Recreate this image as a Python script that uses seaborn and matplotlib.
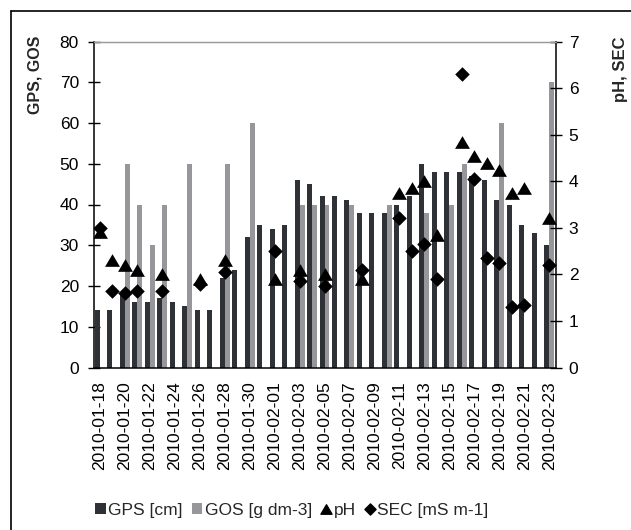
import numpy as np
import pandas as pd
import matplotlib
matplotlib.use("Agg")
import matplotlib.pyplot as plt
from matplotlib.patches import Patch
from matplotlib.lines import Line2D
from matplotlib.path import Path
import seaborn as sns

nan = np.nan
dates = list(pd.date_range("2010-01-18", "2010-02-23", freq="D").strftime("%Y-%m-%d"))

gps = [14, 14, 18, 16, 16, 17, 16, 15, 14, 14, 22, 24, 32, 35, 34, 35, 46, 45, 42, 42,
       41, 38, 38, 38, 40, 42, 50, 48, 48, 48, 47, 46, 41, 40, 35, 33, 30]
gos = [nan, nan, 50, 40, 30, 40, nan, 50, nan, nan, 50, nan, 60, nan, nan, nan, 40, 40, 40, nan,
       40, nan, nan, 40, nan, nan, 38, nan, 40, 50, nan, nan, 60, nan, nan, nan, 70]
ph = [2.9, 2.3, 2.2, 2.1, nan, 2.0, nan, nan, 1.9, nan, 2.3, nan, nan, nan, 1.9, nan, 2.1, nan, 2.0, nan,
      nan, 1.9, nan, nan, 3.75, 3.85, 4.0, 2.85, nan, 4.85, 4.55, 4.4, 4.25, 3.75, 3.85, nan, 3.2]
sec = [3.0, 1.65, 1.6, 1.65, nan, 1.65, nan, nan, 1.8, nan, 2.05, nan, nan, nan, 2.5, nan, 1.85, nan, 1.75, nan,
       nan, 2.1, nan, nan, 3.2, 2.5, 2.65, 1.9, nan, 6.3, 4.05, 2.35, 2.25, 1.3, 1.35, nan, 2.2]

series_names = ["GPS [cm]", "GOS [g dm-3]"]
point_names = ["pH", "SEC [mS m-1]"]
left_ticks = [0, 10, 20, 30, 40, 50, 60, 70, 80]
right_ticks = [0, 1, 2, 3, 4, 5, 6, 7]

gps_c = "#2e3135"
gos_c = "#96969b"

sns.set_style("white")
plt.rcParams["font.family"] = ["Liberation Sans", "DejaVu Sans"]
FS = 12.5

df = pd.DataFrame({
    "date": dates * 2,
    "series": [series_names[0]] * len(dates) + [series_names[1]] * len(dates),
    "value": gps + gos,
}).dropna()

fig = plt.figure(figsize=(6.31, 5.30), dpi=100)
L, R, B, T = 93.5 / 631, 555.5 / 631, 1 - 367.5 / 530, 1 - 41.5 / 530
ax = fig.add_axes([L, B, R - L, T - B])

sns.barplot(data=df, x="date", y="value", hue="series", order=dates, hue_order=series_names,
            palette=[gps_c, gos_c], saturation=1, width=0.8, linewidth=0, errorbar=None,
            legend=False, ax=ax)

ax.set_xlim(-0.5, len(dates) - 0.5)
ax.set_ylim(0, 80)
ax.set_yticks(left_ticks)
ax.set_yticklabels([str(t) for t in left_ticks], fontsize=FS)
ax.set_xticks(range(0, len(dates), 2))
ax.set_xticklabels(dates[::2], rotation=90, fontsize=FS)
ax.set_xticks(np.arange(-0.5, len(dates), 1), minor=True)
ax.tick_params(axis="x", which="major", length=0, pad=10)
ax.tick_params(axis="x", which="minor", length=9, width=1, direction="inout", color="black")
ax.tick_params(axis="y", length=9, width=1, direction="inout", color="black", pad=6, left=True)
ax.tick_params(labelcolor="black")
ax.set_xlabel("")
ax.set_ylabel("")
for s in ["left", "bottom"]:
    ax.spines[s].set_color("black")
    ax.spines[s].set_linewidth(1.1)
ax.spines["top"].set_color("#9a9a9a")
ax.spines["top"].set_linewidth(1)
ax.spines["right"].set_visible(False)

ax2 = ax.twinx()
xpos = np.arange(len(dates))
tri = Path([(-1, -0.85), (1, -0.85), (0, 0.85), (-1, -0.85)], [1, 2, 2, 79])
dia = Path([(0, 1), (1, 0), (0, -1), (-1, 0), (0, 1)], [1, 2, 2, 2, 79])
sns.scatterplot(x=xpos, y=ph, marker=tri, s=115, color="black", edgecolor="black", linewidth=0, ax=ax2)
sns.scatterplot(x=xpos, y=sec, marker=dia, s=110, color="black", edgecolor="black", linewidth=0, ax=ax2)
ax2.set_ylim(0, 7)
ax2.set_xlim(-0.5, len(dates) - 0.5)
ax2.set_yticks(right_ticks)
ax2.set_yticklabels([str(t) for t in right_ticks], fontsize=FS)
ax2.tick_params(axis="y", length=9, width=1, direction="inout", color="black", pad=5, right=True,
                labelcolor="black")
ax2.spines["right"].set_visible(True)
ax2.spines["right"].set_color("black")
ax2.spines["right"].set_linewidth(1.1)
ax2.spines["left"].set_visible(False)
ax2.spines["bottom"].set_visible(False)
ax2.spines["top"].set_color("#9a9a9a")
ax2.set_ylabel("")

fig.text(35 / 631, 1 - 36 / 530, "GPS, GOS", rotation=90, ha="center", va="top",
         fontsize=11.5, fontweight="bold")
fig.text(621 / 631, 1 - 36 / 530, "pH, SEC", rotation=90, ha="center", va="top",
         fontsize=12, fontweight="bold")

handles = [Patch(facecolor=gps_c, edgecolor="none"),
           Patch(facecolor=gos_c, edgecolor="none"),
           Line2D([], [], linestyle="none", marker=tri, markersize=8, color="black"),
           Line2D([], [], linestyle="none", marker=dia, markersize=8, color="black")]
fig.legend(handles, series_names + point_names, loc="center", bbox_to_anchor=(292 / 631, 1 - 510 / 530),
           ncol=4, frameon=False, fontsize=FS, handlelength=0.6, handleheight=0.6,
           handletextpad=0.15, columnspacing=0.5, borderpad=0, borderaxespad=0)

fig.add_artist(Line2D([10.5 / 631, 10.5 / 631], [0, 1 - 10.5 / 530], transform=fig.transFigure,
                      color="black", linewidth=1.2))
fig.add_artist(Line2D([10.5 / 631, 1], [1 - 10.5 / 530, 1 - 10.5 / 530], transform=fig.transFigure,
                      color="black", linewidth=1.2))

fig.savefig("out.png", dpi=100)
